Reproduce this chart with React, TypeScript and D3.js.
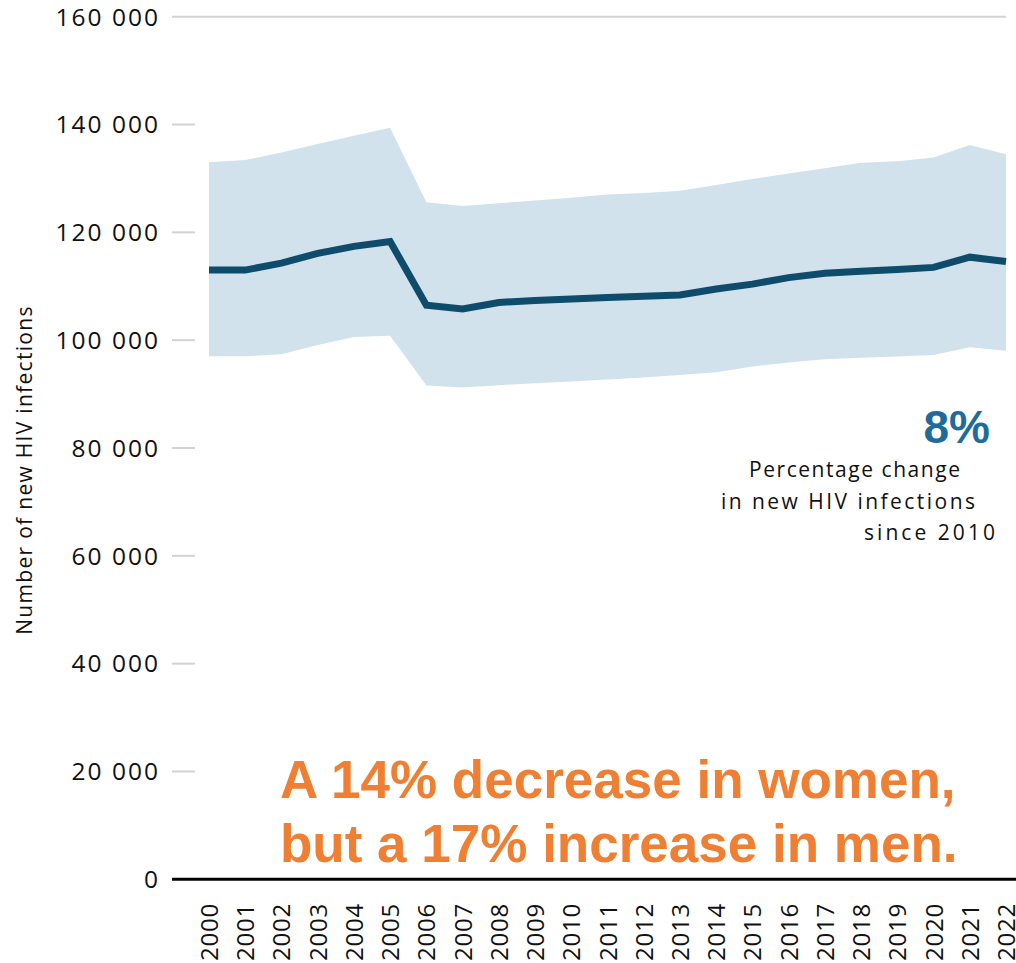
import React from "react";
import * as d3 from "d3";

const years = d3.range(2000, 2023);
const estimate = [113000, 113000, 114300, 116100, 117400, 118300, 106500, 105800, 107000, 107350, 107650, 107900, 108150, 108400, 109500, 110400, 111600, 112400, 112800, 113100, 113500, 115400, 114600];
const upper = [133000, 133400, 134800, 136400, 137900, 139400, 125600, 124900, 125400, 125900, 126400, 127000, 127300, 127700, 128800, 129900, 130900, 131900, 132900, 133200, 133900, 136200, 134500];
const lower = [97000, 97000, 97400, 99100, 100600, 100800, 91600, 91200, 91650, 92000, 92350, 92700, 93100, 93550, 94050, 95100, 95850, 96450, 96750, 96950, 97250, 98700, 98050];
const yTicks = [0, 20000, 40000, 60000, 80000, 100000, 120000, 140000, 160000];
const yTitle = "Number of new HIV infections";
const bigValue = "8%";
const noteLines = ["Percentage change", "in new HIV infections", "since 2010"];
const headline = ["A 14% decrease in women,", "but a 17% increase in men."];

const W = 1016;
const H = 963;

export default function App() {
  const x = d3.scaleLinear().domain([2000, 2022]).range([209, 1006]);
  const y = d3.scaleLinear().domain([0, 160000]).range([879.3, 16.7]);
  const data = years.map((yr, i) => ({ yr, v: estimate[i], lo: lower[i], hi: upper[i] }));
  const area = d3
    .area<any>()
    .x((d) => x(d.yr))
    .y0((d) => y(d.lo))
    .y1((d) => y(d.hi));
  const line = d3
    .line<any>()
    .x((d) => x(d.yr))
    .y((d) => y(d.v));
  const fmt = (v: number) => d3.format(",")(v).replace(/,/g, " ");
  const sans = "'Open Sans', sans-serif";
  const noteX = [749, 721, 864];
  const noteW = [211, 254, 131];
  return (
    <svg width={W} height={H} style={{ position: "absolute", left: 0, top: 0, background: "#fff" }}>
      {yTicks.map((t) => (
        <g key={t}>
          {t === 160000 ? (
            <line x1={172} x2={1006} y1={y(t)} y2={y(t)} stroke="#d3d3d3" strokeWidth={2} />
          ) : t > 0 ? (
            <line x1={172} x2={195} y1={y(t)} y2={y(t)} stroke="#d3d3d3" strokeWidth={2} />
          ) : null}
          <text
            x={160}
            y={y(t)}
            dy="0.36em"
            textAnchor="end"
            fontFamily={sans}
            fontSize={24.5}
            letterSpacing={2}
            fill="#111"
          >
            {fmt(t)}
          </text>
        </g>
      ))}
      <path d={area(data) || ""} fill="#d1e2ec" />
      <path d={line(data) || ""} fill="none" stroke="#0f4c6c" strokeWidth={7} strokeLinejoin="miter" />
      <line x1={172} x2={1016} y1={y(0)} y2={y(0)} stroke="#000" strokeWidth={3} />
      {years.map((yr) => (
        <text
          key={yr}
          transform={`translate(${x(yr) + 9},903) rotate(-90)`}
          textAnchor="end"
          fontFamily={sans}
          fontSize={24}
          letterSpacing={0.8}
          fill="#111"
        >
          {yr}
        </text>
      ))}
      <text
        transform={`translate(32,470) rotate(-90)`}
        textAnchor="middle"
        fontFamily={sans}
        fontSize={21}
        letterSpacing={1.3}
        fill="#111"
      >
        {yTitle}
      </text>
      <text x={990} y={443} textAnchor="end" fontFamily="'Liberation Sans', Arial, sans-serif" fontWeight="bold" fontSize={46} fill="#1f6c9b">
        {bigValue}
      </text>
      {noteLines.map((s, i) => (
        <text
          key={s}
          x={noteX[i]}
          y={477 + i * 31.5}
          fontFamily={sans}
          fontSize={21}
          textLength={noteW[i]}
          lengthAdjust="spacing"
          fill="#111"
        >
          {s}
        </text>
      ))}
      {headline.map((s, i) => (
        <text
          key={s}
          x={280}
          y={798 + i * 63.5}
          fontFamily="'Liberation Sans', Arial, sans-serif"
          fontWeight="bold"
          fontSize={53}
          fill="#ef7f32"
        >
          {s}
        </text>
      ))}
    </svg>
  );
}
